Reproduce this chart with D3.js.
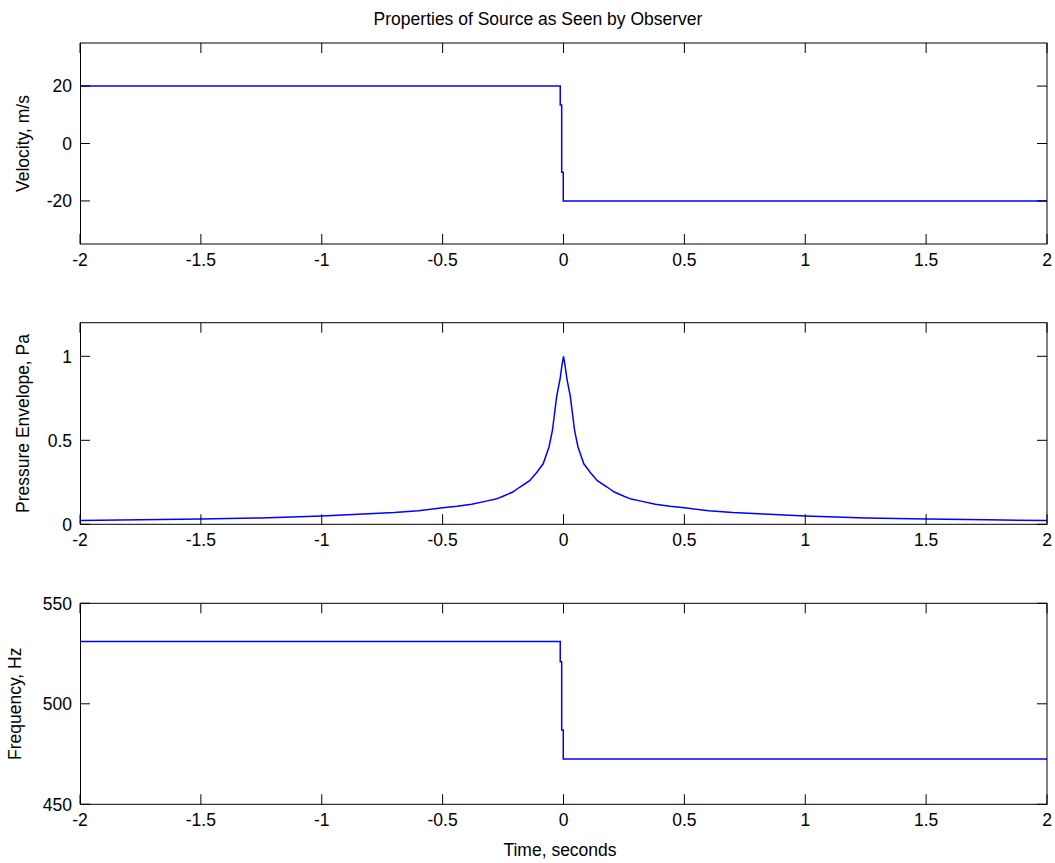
<!DOCTYPE html>
<html>
<head>
<meta charset="utf-8">
<script src="https://cdn.jsdelivr.net/npm/d3@7"></script>
<style>
  body { margin: 0; background: #fff; }
  text { font-family: "Liberation Sans", Arial, sans-serif; fill: #000; }
</style>
</head>
<body>
<svg id="chart"></svg>
<script>
// time samples where the source passes the observer
const stepTime = [-2, -0.0135, -0.0075, -0.001, 2];
const velocity = [20, 13.4, -10, -20, -20];
const frequency = [531, 520.9, 487, 472.5, 472.5];

// pressure envelope
const pressTime = [-2, -1.75, -1.5, -1.25, -1, -0.85, -0.7, -0.6, -0.5, -0.44, -0.38, -0.32, -0.28, -0.25,
  -0.21, -0.18, -0.14, -0.11, -0.084, -0.06, -0.046, -0.028, -0.0145, -0.006, 0,
  0.006, 0.0145, 0.028, 0.046, 0.06, 0.084, 0.11, 0.14, 0.18, 0.21, 0.25, 0.28, 0.32, 0.38, 0.44,
  0.5, 0.6, 0.7, 0.85, 1, 1.25, 1.5, 1.75, 2];
const pressure = [0.022, 0.027, 0.031, 0.038, 0.050, 0.060, 0.070, 0.080, 0.098, 0.108, 0.120, 0.138, 0.150, 0.167,
  0.192, 0.222, 0.26, 0.31, 0.36, 0.46, 0.557, 0.763, 0.862, 0.95, 1.0,
  0.95, 0.862, 0.763, 0.557, 0.46, 0.36, 0.31, 0.26, 0.222, 0.192, 0.167, 0.150, 0.138, 0.120, 0.108,
  0.098, 0.080, 0.070, 0.060, 0.050, 0.038, 0.031, 0.027, 0.022];

const xTicks = [-2, -1.5, -1, -0.5, 0, 0.5, 1, 1.5, 2];
const velTicks = [-20, 0, 20];
const pressTicks = [0, 0.5, 1];
const freqTicks = [450, 500, 550];

const W = 1055;
const H = 863;
const svg = d3.select("#chart").attr("width", W).attr("height", H);

const left = 80, right = 1047;
const x = d3.scaleLinear().domain([-2, 2]).range([left, right]);

const panels = [
  { top: 43, bottom: 244, domain: [-35, 35], ticks: velTicks, label: "Velocity, m/s", labelX: 29,
    xs: stepTime, ys: velocity, curve: d3.curveStepAfter },
  { top: 322.7, bottom: 524.3, domain: [0, 1.2], ticks: pressTicks, label: "Pressure Envelope, Pa", labelX: 29,
    xs: pressTime, ys: pressure, curve: d3.curveLinear },
  { top: 603.3, bottom: 804.3, domain: [450, 550], ticks: freqTicks, label: "Frequency, Hz", labelX: 21,
    xs: stepTime, ys: frequency, curve: d3.curveStepAfter }
];

const fmt = d => String(d);
const tickLen = 10;

panels.forEach(p => {
  const y = d3.scaleLinear().domain(p.domain).range([p.bottom, p.top]);
  const g = svg.append("g");

  // data line
  const line = d3.line().x(d => x(d[0])).y(d => y(d[1])).curve(p.curve);
  g.append("path")
    .datum(p.xs.map((t, i) => [t, p.ys[i]]))
    .attr("d", line)
    .attr("fill", "none")
    .attr("stroke", "#0000ff")
    .attr("stroke-width", 1.5);

  // inward ticks on all four sides
  const ax = g.append("g").attr("stroke", "#000").attr("stroke-width", 1);
  xTicks.forEach(t => {
    ax.append("line").attr("x1", x(t)).attr("x2", x(t)).attr("y1", p.bottom).attr("y2", p.bottom - tickLen);
    ax.append("line").attr("x1", x(t)).attr("x2", x(t)).attr("y1", p.top).attr("y2", p.top + tickLen);
  });
  p.ticks.forEach(t => {
    ax.append("line").attr("x1", left).attr("x2", left + tickLen).attr("y1", y(t)).attr("y2", y(t));
    ax.append("line").attr("x1", right).attr("x2", right - tickLen).attr("y1", y(t)).attr("y2", y(t));
  });

  // box
  g.append("rect")
    .attr("x", left + 0.5).attr("y", p.top)
    .attr("width", right - left - 0.5).attr("height", p.bottom - p.top)
    .attr("fill", "none").attr("stroke", "#000").attr("stroke-width", 1);

  // tick labels
  g.selectAll(".xl").data(xTicks).enter().append("text")
    .attr("x", d => x(d)).attr("y", p.bottom + 22)
    .attr("text-anchor", "middle").attr("font-size", 17.5)
    .text(fmt);
  g.selectAll(".yl").data(p.ticks).enter().append("text")
    .attr("x", left - 8).attr("y", d => y(d)).attr("dy", "0.36em")
    .attr("text-anchor", "end").attr("font-size", 17.5)
    .text(fmt);

  // y label
  g.append("text")
    .attr("transform", `translate(${p.labelX},${(p.top + p.bottom) / 2}) rotate(-90)`)
    .attr("text-anchor", "middle").attr("font-size", 17.5)
    .text(p.label);
});

// title
svg.append("text")
  .attr("x", 538).attr("y", 25)
  .attr("text-anchor", "middle").attr("font-size", 17.5)
  .text("Properties of Source as Seen by Observer");

// x label
svg.append("text")
  .attr("x", 560).attr("y", 856)
  .attr("text-anchor", "middle").attr("font-size", 17.5)
  .text("Time, seconds");
</script>
</body>
</html>
